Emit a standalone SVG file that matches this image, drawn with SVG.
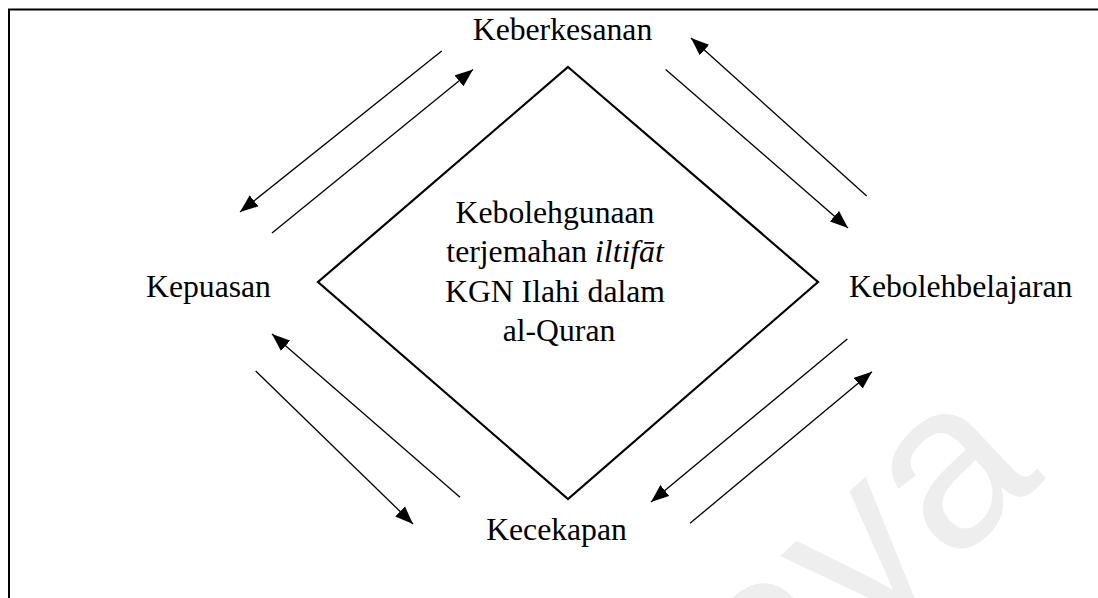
<svg xmlns="http://www.w3.org/2000/svg" width="1098" height="598" viewBox="0 0 1098 598">
  <style>
    .lbl { font-family: "Liberation Serif", "Times New Roman", serif; font-size: 31.7px; fill: #000; }
    .conn { stroke: #000; stroke-width: 1.3; fill: none; marker-end: url(#head); }
    .mark { font-family: "Liberation Sans", Arial, sans-serif; font-size: 235px; fill: #eeeeee; }
  </style>
  <defs>
    <marker id="head" markerUnits="userSpaceOnUse" markerWidth="18" markerHeight="14" refX="18" refY="7" orient="auto">
      <path d="M0,0 L18,7 L0,14 Z" fill="#000"/>
    </marker>
  </defs>
  <rect width="1098" height="598" fill="#fff"/>

  <!-- faint background watermark -->
  <text class="mark" x="1046" y="478" text-anchor="end" transform="rotate(-43 1046 478)">aya</text>

  <!-- page frame (top and left edges) -->
  <path d="M9,598 V9.5 H1098" stroke="#000" stroke-width="2" fill="none"/>

  <!-- central concept -->
  <g id="centre">
    <polygon points="568,67 818,282 568,499 318,282" fill="none" stroke="#000" stroke-width="2.2"/>
    <text class="lbl" text-anchor="middle">
      <tspan x="559" y="223">Kebolehgunaan</tspan>
      <tspan x="559" y="262">terjemahan <tspan font-style="italic">iltifāt</tspan></tspan>
      <tspan x="559" y="302">KGN Ilahi dalam</tspan>
      <tspan x="559" y="341">al-Quran</tspan>
    </text>
  </g>

  <g id="keberkesanan">
    <text class="lbl" x="562.5" y="40" text-anchor="middle">Keberkesanan</text>
  </g>
  <g id="kepuasan">
    <text class="lbl" x="146" y="297">Kepuasan</text>
  </g>
  <g id="kebolehbelajaran">
    <text class="lbl" x="849" y="297">Kebolehbelajaran</text>
  </g>
  <g id="kecekapan">
    <text class="lbl" x="556.5" y="540" text-anchor="middle">Kecekapan</text>
  </g>

  <!-- paired two-way links between the outer factors -->
  <g id="connectors">
    <line class="conn" x1="441.7" y1="51" x2="240" y2="212"/>
    <line class="conn" x1="272" y1="233" x2="473" y2="69.5"/>

    <line class="conn" x1="866.7" y1="196" x2="691" y2="38"/>
    <line class="conn" x1="665.7" y1="69.5" x2="848" y2="228"/>

    <line class="conn" x1="460" y1="497.3" x2="272" y2="334"/>
    <line class="conn" x1="255.7" y1="371" x2="413" y2="524"/>

    <line class="conn" x1="847.3" y1="339" x2="651" y2="502"/>
    <line class="conn" x1="690" y1="523.3" x2="872" y2="371.7"/>
  </g>
</svg>
